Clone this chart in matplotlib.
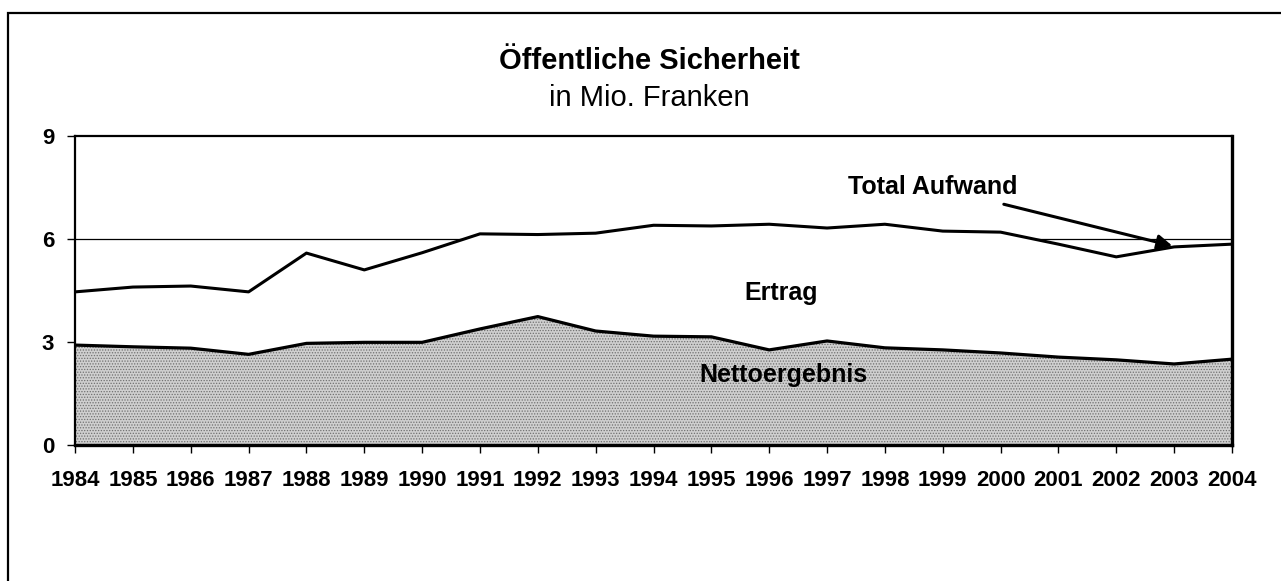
import matplotlib.pyplot as plt
from matplotlib.patches import Rectangle

plt.rcParams['font.family'] = ['Liberation Sans', 'DejaVu Sans']
plt.rcParams['hatch.color'] = '#707070'
plt.rcParams['hatch.linewidth'] = 0.6

years = list(range(1984, 2005))
total_aufwand = [4.46, 4.60, 4.63, 4.46, 5.59, 5.10, 5.60, 6.15, 6.13, 6.17, 6.40,
                 6.38, 6.43, 6.32, 6.43, 6.23, 6.20, 5.85, 5.48, 5.77, 5.85]
nettoergebnis = [2.91, 2.86, 2.82, 2.64, 2.96, 2.99, 2.99, 3.38, 3.74, 3.32, 3.17,
                 3.15, 2.77, 3.03, 2.83, 2.77, 2.68, 2.56, 2.48, 2.36, 2.50]
y_ticks = [0, 3, 6, 9]

fig = plt.figure(figsize=(12.81, 5.81), dpi=100)
ax = fig.add_axes([0.0586, 0.2341, 0.9031, 0.5318])

# grid sits behind the white "Ertrag" band, like in the original
for v in y_ticks[1:3]:
    ax.axhline(v, color='black', lw=0.9, zorder=0)

ax.fill_between(years, nettoergebnis, total_aufwand, facecolor='white', zorder=1)
ax.fill_between(years, 0, nettoergebnis, facecolor='#cfcfcf', hatch='......',
                edgecolor='#707070', linewidth=0, zorder=2)
ax.plot(years, nettoergebnis, color='black', lw=2.3, zorder=3)
ax.plot(years, total_aufwand, color='black', lw=2.2, zorder=3)

ax.set_xlim(1984, 2004)
ax.set_ylim(0, 9)
ax.set_xticks(years)
ax.set_xticklabels([str(y) for y in years])
ax.set_yticks(y_ticks)
ax.tick_params(axis='x', length=6, width=1, pad=12, labelsize=16)
ax.tick_params(axis='y', length=6, width=1, pad=9, labelsize=16)
for lab in ax.get_xticklabels() + ax.get_yticklabels():
    lab.set_fontweight('bold')

ax.spines['left'].set_linewidth(1.6)
ax.spines['top'].set_linewidth(1.6)
ax.spines['bottom'].set_linewidth(2.4)
ax.spines['right'].set_linewidth(2.4)

ax.text(1996.2, 4.43, 'Ertrag', fontsize=18, fontweight='bold', ha='center', va='center', zorder=5)
ax.text(1996.25, 2.04, 'Nettoergebnis', fontsize=18, fontweight='bold', ha='center', va='center', zorder=5)
ax.annotate('Total Aufwand', xy=(2002.97, 5.8), xytext=(2000.3, 7.52),
            fontsize=18, fontweight='bold', ha='right', va='center', zorder=5,
            arrowprops=dict(arrowstyle='-|>', color='black', lw=2.2, mutation_scale=22,
                            shrinkA=8, shrinkB=0))

fig.text(649 / 1281, 1 - 61 / 581, 'Öffentliche Sicherheit', fontsize=21,
         fontweight='bold', ha='center', va='center')
fig.text(649 / 1281, 1 - 98 / 581, 'in Mio. Franken', fontsize=21,
         ha='center', va='center')

# outer chart frame (only left and top edges fall inside the picture)
fig.patches.append(Rectangle((8 / 1281, -0.1), 1.2, 1.1 - 13 / 581,
                             transform=fig.transFigure, fill=False,
                             edgecolor='black', lw=1.6))

fig.savefig('out.png', dpi=100)
